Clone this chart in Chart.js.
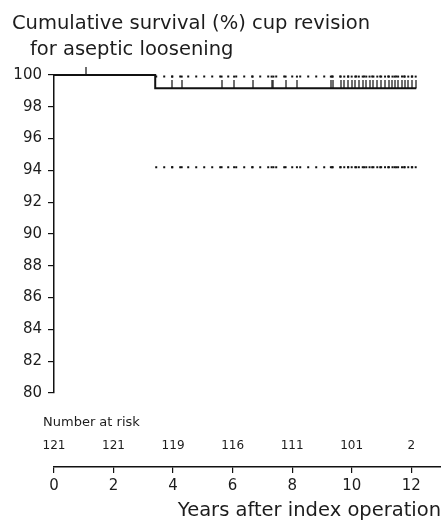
<!DOCTYPE html>
<html>
<head>
<meta charset="utf-8">
<script src="https://cdn.jsdelivr.net/npm/chart.js@4"></script>
<style>
  html, body { margin: 0; padding: 0; background: #fff; }
  #wrap { width: 441px; height: 521px; }
</style>
</head>
<body>
<div id="wrap"><canvas id="survivalChart"></canvas></div>
<script>
// Kaplan-Meier curve (step changes)
var stepYears = [0, 3.4, 12.17];
var survival = [100, 99.17, 99.17];

// 95% confidence limits after the first event
var ciYears = [3.4, 12.17];
var ciUpper = [99.9, 99.9];
var ciLower = [94.2, 94.2];

// censored cases, years
var censoredYears = [
  1.07, 3.97, 4.29, 5.63, 6.05, 6.67, 7.31, 7.37, 7.78, 8.16, 9.3, 9.36,
  9.63, 9.75, 9.88, 10.0, 10.12, 10.24, 10.37, 10.49,
  10.6, 10.73, 10.86, 10.99, 11.12, 11.25, 11.37,
  11.44, 11.56, 11.69,
  11.78, 11.9, 12.02, 12.15
];

var riskYears = [0, 2, 4, 6, 8, 10, 12];
var atRisk = [121, 121, 119, 116, 111, 101, 2];

var xTicks = [0, 2, 4, 6, 8, 10, 12];
var yTicks = [80, 82, 84, 86, 88, 90, 92, 94, 96, 98, 100];

var ink = "#111";
var textColor = "#1c1c1c";
var fontFamily = "'DejaVu Sans', sans-serif";

function stepValue(times, values, t) {
  var v = values[0];
  for (var i = 0; i < times.length; i++) {
    if (times[i] <= t) v = values[i];
  }
  return v;
}

// little upward censor mark
var censorMark = document.createElement("canvas");
censorMark.width = 2;
censorMark.height = 16;
var cm = censorMark.getContext("2d");
cm.fillStyle = ink;
cm.fillRect(0.4, 0, 1.2, 8);

var afterFirstEvent = censoredYears.filter(function (t) { return t >= ciYears[0]; });

var riskTable = {
  id: "riskTable",
  afterDraw: function (chart) {
    var c = chart.ctx;
    var x = chart.scales.x;
    var area = chart.chartArea;
    c.save();
    c.fillStyle = textColor;
    c.textBaseline = "alphabetic";
    c.textAlign = "left";
    c.font = "19.5px " + fontFamily;
    c.fillText("Cumulative survival (%) cup revision", 12, 28.5);
    c.fillText("for aseptic loosening", 30, 55);
    c.font = "13px " + fontFamily;
    c.fillText("Number at risk", 43, area.bottom - 41);
    c.font = "12px " + fontFamily;
    c.textAlign = "center";
    riskYears.forEach(function (yr, i) {
      c.fillText(String(atRisk[i]), x.getPixelForValue(yr), area.bottom - 18);
    });
    c.restore();
  }
};

Chart.defaults.font.family = fontFamily;
Chart.defaults.color = textColor;

var ctx = document.getElementById("survivalChart");
var survivalChart = new Chart(ctx, {
  type: "scatter",
  data: {
    datasets: [
      {
        label: "Survival",
        data: stepYears.map(function (t, i) { return { x: t, y: survival[i] }; }),
        showLine: true,
        stepped: "before",
        borderColor: ink,
        borderWidth: 2,
        pointRadius: 0,
        clip: false,
        yAxisID: "y"
      },
      {
        label: "Upper 95% CI",
        data: ciYears.map(function (t, i) { return { x: t, y: ciUpper[i] }; }),
        showLine: true,
        borderColor: ink,
        borderWidth: 2,
        borderDash: [2, 6],
        pointRadius: 0,
        yAxisID: "y"
      },
      {
        label: "Lower 95% CI",
        data: ciYears.map(function (t, i) { return { x: t, y: ciLower[i] }; }),
        showLine: true,
        borderColor: ink,
        borderWidth: 2,
        borderDash: [2, 6],
        pointRadius: 0,
        yAxisID: "y"
      },
      {
        label: "Censored",
        data: censoredYears.map(function (t) { return { x: t, y: stepValue(stepYears, survival, t) }; }),
        pointStyle: censorMark,
        pointRadius: 4,
        clip: false,
        yAxisID: "y"
      },
      {
        label: "Censored upper",
        data: afterFirstEvent.map(function (t) { return { x: t, y: stepValue(ciYears, ciUpper, t) }; }),
        pointStyle: "rect",
        pointRadius: 1.4,
        backgroundColor: ink,
        borderWidth: 0,
        clip: false,
        yAxisID: "y"
      },
      {
        label: "Censored lower",
        data: afterFirstEvent.map(function (t) { return { x: t, y: stepValue(ciYears, ciLower, t) }; }),
        pointStyle: "rect",
        pointRadius: 1.4,
        backgroundColor: ink,
        borderWidth: 0,
        clip: false,
        yAxisID: "y"
      }
    ]
  },
  options: {
    responsive: true,
    maintainAspectRatio: false,
    animation: false,
    events: [],
    layout: { autoPadding: false, padding: { top: 75, left: 0, right: 0, bottom: 0 } },
    plugins: {
      legend: { display: false },
      tooltip: { enabled: false }
    },
    scales: {
      x: {
        type: "linear",
        position: "bottom",
        min: 0,
        max: 13,
        afterBuildTicks: function (s) { s.ticks = xTicks.map(function (v) { return { value: v }; }); },
        afterFit: function (s) { s.height = 54; s.paddingLeft = 0; s.paddingRight = 0; },
        border: { color: ink, width: 1.5 },
        grid: { drawOnChartArea: false, tickLength: 6, color: ink, lineWidth: 1.2 },
        ticks: { font: { size: 15 }, padding: 4, maxRotation: 0, autoSkip: false },
        title: {
          display: true,
          text: "Years after index operation",
          align: "end",
          font: { size: 19.5, lineHeight: 1 },
          padding: { top: 0, bottom: 0 }
        }
      },
      yRisk: {
        type: "linear",
        position: "left",
        stack: "left",
        stackWeight: 74,
        min: 0,
        max: 1,
        border: { display: false },
        grid: { display: false },
        ticks: { display: false }
      },
      y: {
        type: "linear",
        position: "left",
        stack: "left",
        stackWeight: 318,
        min: 80,
        max: 100,
        afterBuildTicks: function (s) { s.ticks = yTicks.map(function (v) { return { value: v }; }); },
        afterFit: function (s) { s.width = 54; },
        border: { color: ink, width: 1.5 },
        grid: { drawOnChartArea: false, tickLength: 6, color: ink, lineWidth: 1.2 },
        ticks: { font: { size: 15 }, padding: 6, autoSkip: false }
      }
    }
  },
  plugins: [riskTable]
});
</script>
</body>
</html>
